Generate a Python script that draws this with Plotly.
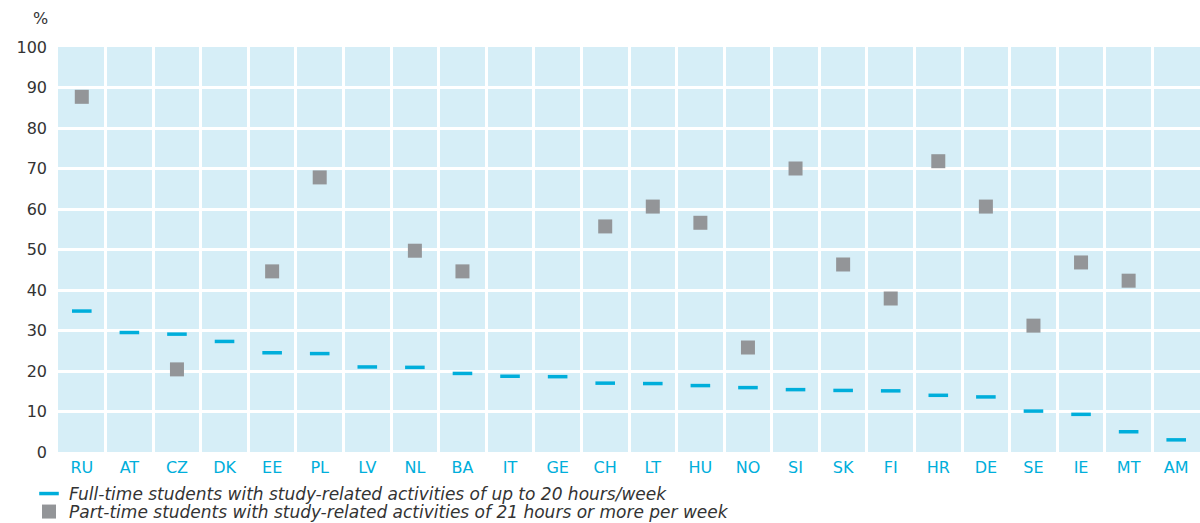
import plotly.graph_objects as go

countries = ["RU", "AT", "CZ", "DK", "EE", "PL", "LV", "NL", "BA", "IT", "GE", "CH",
             "LT", "HU", "NO", "SI", "SK", "FI", "HR", "DE", "SE", "IE", "MT", "AM"]
full_time = [34.8, 29.5, 29.1, 27.3, 24.5, 24.3, 21.0, 20.9, 19.4, 18.7, 18.6, 17.0,
             16.9, 16.4, 15.9, 15.4, 15.2, 15.1, 14.0, 13.6, 10.1, 9.3, 5.0, 3.0]
part_time = [87.7, None, 20.4, None, 44.6, 67.8, None, 49.7, 44.6, None, None, 55.7,
             60.6, 56.6, 25.8, 70.0, 46.3, 37.9, 71.8, 60.6, 31.2, 46.8, 42.3, None]
y_ticks = [0, 10, 20, 30, 40, 50, 60, 70, 80, 90, 100]
legend_full = "Full-time students with study-related activities of up to 20 hours/week"
legend_part = "Part-time students with study-related activities of 21 hours or more per week"

FONT = "DejaVu Sans"
BLUE = "#00AEDB"
GREY = "#939598"
TXT = "#333333"

W, H = 1200, 523
ML, MR, MT, MB = 58, 0, 47, 71
PW, PH = W - ML - MR, H - MT - MB


def px_to_paper_x(px):
    return (px - ML) / PW


def px_to_paper_y(py):
    return (H - MB - py) / PH


x_idx = list(range(len(countries)))

fig = go.Figure()
fig.add_trace(go.Scatter(
    x=x_idx, y=full_time, mode="markers", name=legend_full, legend="legend",
    marker=dict(symbol="line-ew", size=14, color=BLUE,
                line=dict(color=BLUE, width=3.5)),
))
fig.add_trace(go.Scatter(
    x=x_idx, y=part_time, mode="markers", name=legend_part, legend="legend2",
    marker=dict(symbol="square", size=14, color=GREY, line=dict(width=0)),
))

leg_common = dict(
    xanchor="left", yanchor="middle", orientation="v", bgcolor="rgba(0,0,0,0)",
    font=dict(family=FONT, size=17, color=TXT, style="italic"),
    itemsizing="trace", borderwidth=0,
)

fig.update_layout(
    width=W, height=H,
    margin=dict(l=ML, r=MR, t=MT, b=MB, autoexpand=False),
    paper_bgcolor="white",
    plot_bgcolor="#D6EEF7",
    font=dict(family=FONT, size=16, color=TXT),
    showlegend=True,
    legend=dict(x=px_to_paper_x(29), y=px_to_paper_y(494), **leg_common),
    legend2=dict(x=px_to_paper_x(29), y=px_to_paper_y(512), **leg_common),
    annotations=[dict(
        text="%", x=px_to_paper_x(40), y=px_to_paper_y(18),
        xref="paper", yref="paper", showarrow=False,
        xanchor="center", yanchor="middle",
        font=dict(family=FONT, size=16, color=TXT),
    )],
)

fig.update_xaxes(
    range=[-0.5, len(countries) - 0.5],
    tickvals=x_idx, ticktext=countries,
    tickfont=dict(family=FONT, size=16, color=BLUE),
    showgrid=False, zeroline=False, showline=False, ticks="", automargin=False,
    ticklabelstandoff=4,
    minor=dict(tickvals=[i + 0.5 for i in x_idx[:-1]], showgrid=True,
               gridcolor="white", gridwidth=2.5, ticks=""),
)
fig.update_yaxes(
    range=[0, 100], tickvals=y_ticks,
    tickfont=dict(family=FONT, size=16, color=TXT),
    showgrid=True, gridcolor="white", gridwidth=2.5, automargin=False,
    zeroline=False, showline=False, ticks="", ticklabelstandoff=10,
)

fig.write_html("out.html",
               config={"displayModeBar": False},
               post_script="document.body.style.margin='0';document.body.style.overflow='hidden';")
